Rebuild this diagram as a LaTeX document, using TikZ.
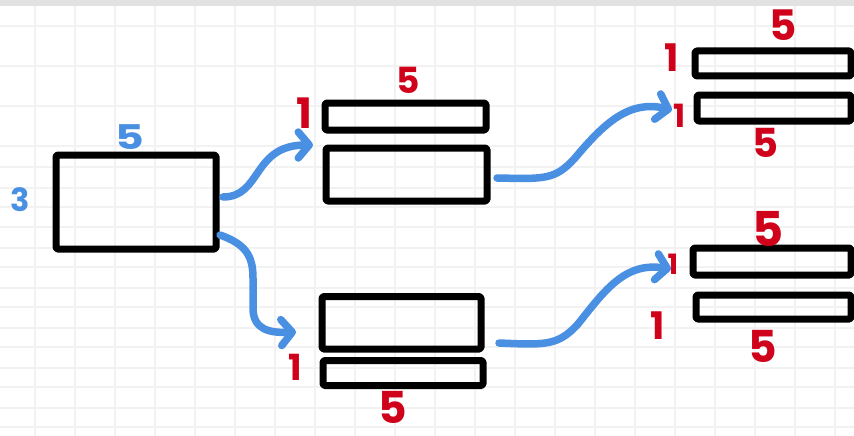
\documentclass[tikz,border=0pt]{standalone}
\usepackage{fontspec}
\setmainfont{Poppins}
\usetikzlibrary{arrows.meta}
\definecolor{inkred}{RGB}{208,2,27}
\definecolor{inkblue}{RGB}{74,144,226}
\definecolor{gridc}{RGB}{242,242,242}
\definecolor{barc}{RGB}{226,226,226}
\tikzset{
  box/.style={draw=black, line width=7pt, line join=round, inner sep=0pt, outer sep=0pt, rectangle, rounded corners=1.5pt},
  flow/.style={draw=inkblue, line width=7.5pt, line cap=round, line join=round, -{Straight Barb[length=11pt,width=26pt,round]}},
  rlab/.style={text=inkred, inner sep=0pt, font=\bfseries\fontsize{#1}{#1}\selectfont},
  blab/.style={text=inkblue, inner sep=0pt, font=\bfseries\fontsize{#1}{#1}\selectfont},
  gridline/.style={draw=gridc, line width=1.8pt}
}
\begin{document}
\begin{tikzpicture}[x=1pt,y=-1pt]
\useasboundingbox (0,0) rectangle (854,436);
\fill[white] (0,0) rectangle (854,436);
% grid
\foreach \gx in {35,75,...,835} \draw[gridline] (\gx,0) -- (\gx,436);
\foreach \gy in {26,66,106,146,167,188,207,227,248,267,288,307,328,347,368,387,408,427} \draw[gridline] (0,\gy) -- (854,\gy);
\fill[barc] (0,0) rectangle (854,6);

% boxes
\node[box, minimum width=160pt, minimum height=94pt] (A) at (136,202) {};
\node[box, minimum width=161pt, minimum height=27pt] (B1) at (405.5,116.5) {};
\node[box, minimum width=161pt, minimum height=53pt] (B2) at (406.5,174.5) {};
\node[box, minimum width=159pt, minimum height=52.5pt] (C1) at (401.5,322.75) {};
\node[box, minimum width=160pt, minimum height=25pt] (C2) at (403,373) {};
\node[box, minimum width=156pt, minimum height=25pt] (D1) at (773,63.5) {};
\node[box, minimum width=154pt, minimum height=26pt] (D2) at (774,108) {};
\node[box, minimum width=158pt, minimum height=27pt] (E1) at (772,261.5) {};
\node[box, minimum width=155pt, minimum height=24pt] (E2) at (773.5,307) {};

% connector ends
\coordinate (s1) at (223,197);
\coordinate (t1) at (313,145);
\coordinate (s2) at (220,235);
\coordinate (t2) at (296,332);
\coordinate (s3) at (497,178);
\coordinate (t3) at (672,110);
\coordinate (s4) at (499,343);
\coordinate (t4) at (671,269);

\draw[flow] (s1) .. controls (262,197) and (252,145) .. (t1);
\draw[flow] (s2) .. controls (245,244) and (253,255) .. (253,278) -- (253,308) .. controls (253,330) and (270,333) .. (t2);
\draw[flow] (s3) .. controls (545,179) and (555,180) .. (575,158) .. controls (605,122) and (630,100) .. (t3);
\draw[flow] (s4) .. controls (545,345) and (558,346) .. (578,324) .. controls (605,290) and (625,262) .. (t4);

% labels
\node[blab=34, xscale=1.3] (lA5) at (130,137) {5};
\node[blab=32] (lA3) at (20,200) {3};
\node[rlab=36] (lB5) at (408,80) {5};
\node[rlab=42] (lB1) at (304,113) {1};
\node[rlab=36] (lC1) at (295,367) {1};
\node[rlab=44] (lC5) at (393,407) {5};
\node[rlab=42] (lD5a) at (783,25) {5};
\node[rlab=38] (lD1a) at (672,58) {1};
\node[rlab=32] (lD1b) at (680,116) {1};
\node[rlab=40] (lD5b) at (765,143) {5};
\node[rlab=48] (lE5a) at (768,229) {5};
\node[rlab=28] (lE1a) at (673,264) {1};
\node[rlab=38] (lE1b) at (658,326) {1};
\node[rlab=44] (lE5b) at (763,346) {5};
\end{tikzpicture}
\end{document}
